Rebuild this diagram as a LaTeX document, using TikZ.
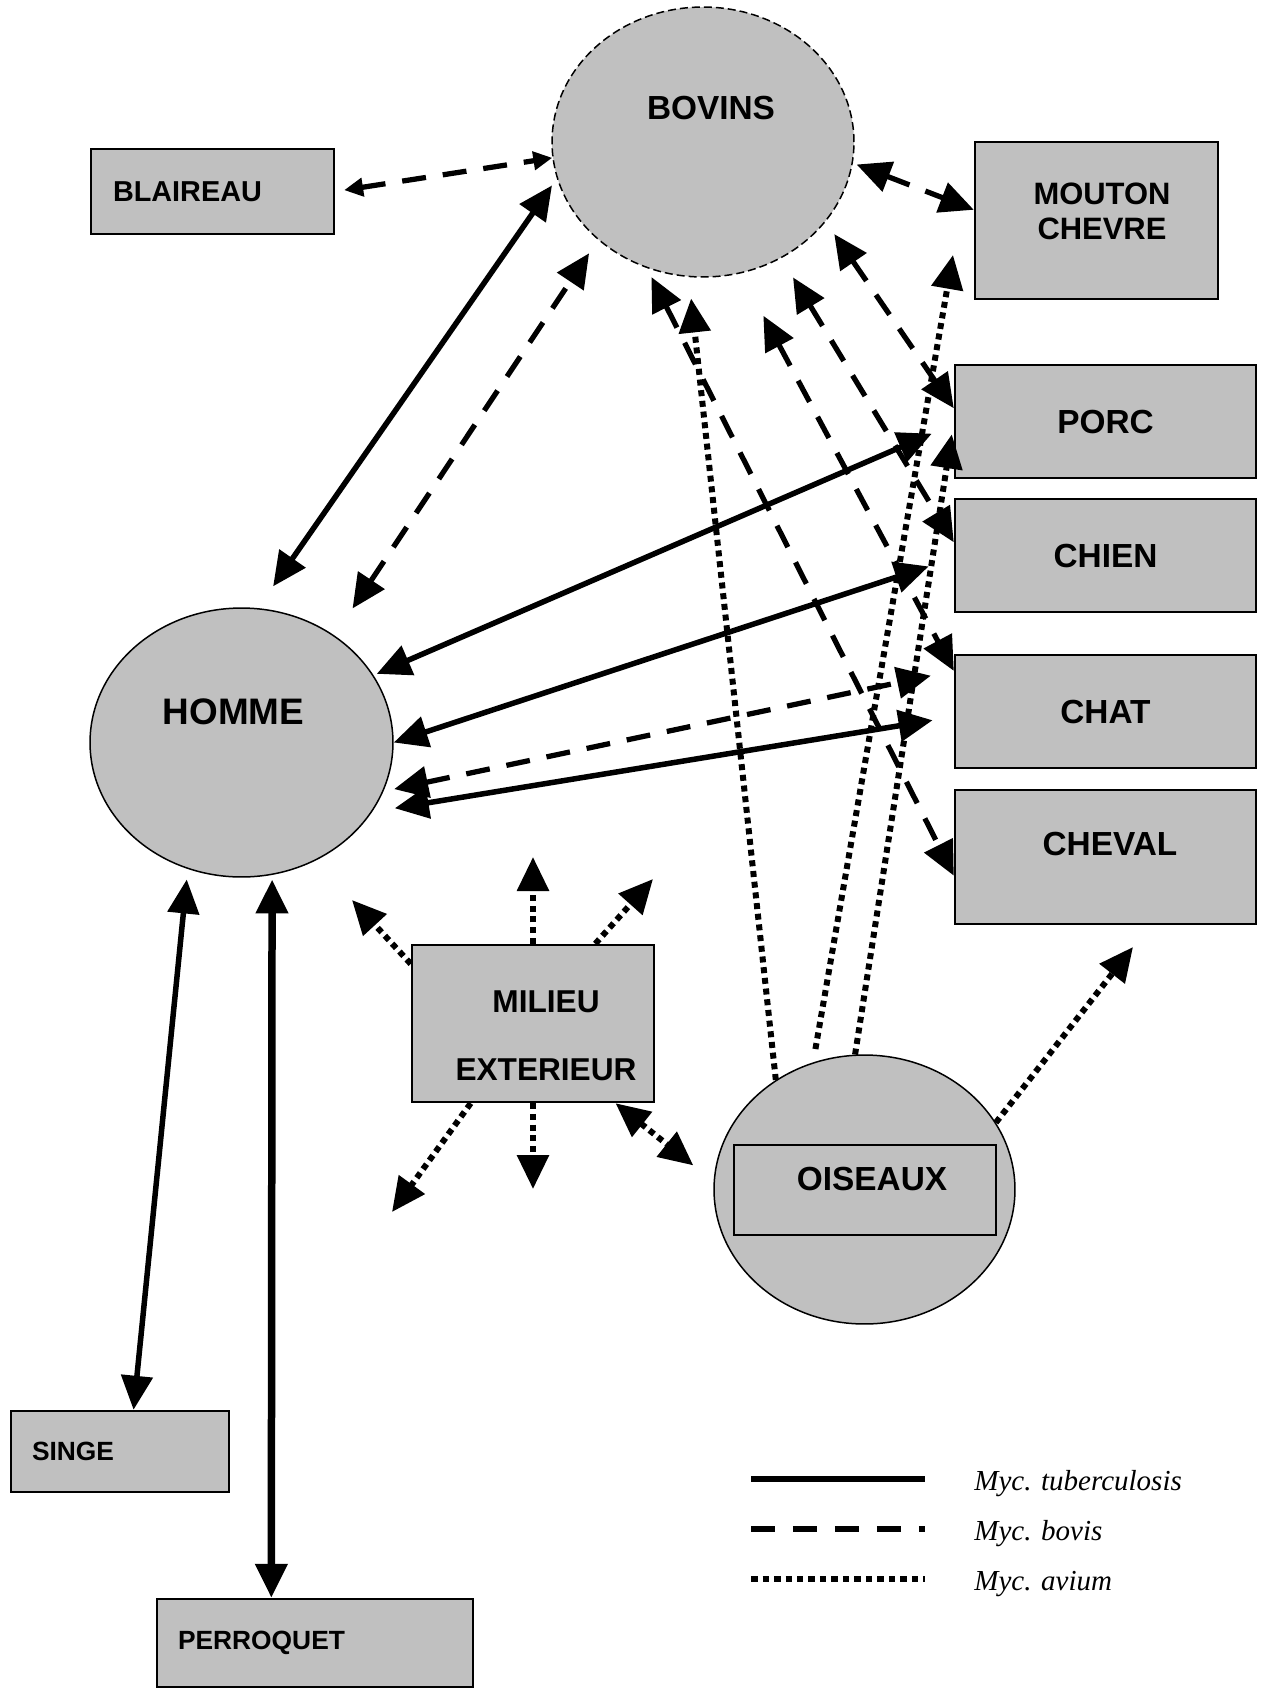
\documentclass[tikz,border=0pt]{standalone}
\usepackage{fontspec}
\setmainfont{Liberation Sans}
\newfontfamily\legfont{Liberation Serif}
\usetikzlibrary{arrows.meta,shapes.geometric}
\definecolor{boxgray}{RGB}{192,192,192}
\tikzset{
  >={Triangle[length=0.68cm,width=0.62cm]},
  sbox/.style={draw, line width=0.05cm, fill=boxgray, inner sep=0pt},
  sell/.style={ellipse, draw, line width=0.03cm, fill=boxgray, inner sep=0pt},
  ttx/.style={font=\bfseries\fontsize{19}{22}\selectfont},
  stx/.style={font=\bfseries\fontsize{15}{18}\selectfont, align=left, inner xsep=0.42cm},
  tub/.style={line width=0.11cm},
  bov/.style={line width=0.105cm, dash pattern=on 0.48cm off 0.34cm},
  avi/.style={line width=0.12cm, dash pattern=on 0.12cm off 0.095cm},
  leg/.style={font=\legfont\itshape\fontsize{16.5}{20}\selectfont, anchor=west, inner sep=0pt},
}

\begin{document}
\begin{tikzpicture}[x=0.02cm, y=-0.02cm]
\useasboundingbox (0,0) rectangle (1265,1688);
% hosts
\node[sell, dash pattern=on 0.16cm off 0.08cm, minimum width=6.04cm, minimum height=5.4cm,
  label={[ttx, xshift=0.16cm, yshift=0.68cm]center:BOVINS}] (bovins) at (703,142) {};
\node[sell, minimum width=6.06cm, minimum height=5.38cm,
  label={[ttx, font=\bfseries\fontsize{21}{24}\selectfont, xshift=-0.16cm, yshift=0.62cm]center:HOMME}] (homme) at (241.5,742.5) {};
\node[sell, minimum width=6.02cm, minimum height=5.38cm] (oiseaux) at (864.5,1189.5) {};
\node[sbox, line width=0.04cm, minimum width=5.24cm, minimum height=1.8cm,
  label={[ttx, xshift=0.14cm, yshift=0.22cm]center:OISEAUX}] (oisrect) at (865,1190) {};

\node[sbox, stx, font=\bfseries\fontsize{16.4}{19}\selectfont, inner xsep=0.44cm, text width=3.98cm,
  minimum width=4.86cm, minimum height=1.7cm] (blaireau) at (212.5,191.5) {BLAIREAU};
\node[sbox, minimum width=4.86cm, minimum height=3.14cm,
  label={[ttx, font=\bfseries\fontsize{17.6}{20}\selectfont, align=center, xshift=0.11cm, yshift=0.18cm]center:MOUTON\\CHEVRE}] (mouton) at (1096.5,220.5) {};
\node[sbox, ttx, minimum width=6.02cm, minimum height=2.26cm] (porc) at (1105.5,421.5) {PORC};
\node[sbox, ttx, minimum width=6.02cm, minimum height=2.26cm] (chien) at (1105.5,555.5) {CHIEN};
\node[sbox, ttx, minimum width=6.02cm, minimum height=2.26cm] (chat) at (1105.5,711.5) {CHAT};
\node[sbox, minimum width=6.02cm, minimum height=2.68cm,
  label={[ttx, xshift=0.09cm, yshift=0.26cm]center:CHEVAL}] (cheval) at (1105.5,857) {};
\node[sbox, minimum width=4.84cm, minimum height=3.14cm,
  label={[ttx, font=\bfseries\fontsize{18}{38.6}\selectfont, align=center, xshift=0.26cm, yshift=-0.25cm]center:MILIEU\\EXTERIEUR}] (milieu) at (533,1023.5) {};
\node[sbox, stx, text width=3.52cm, minimum width=4.36cm, minimum height=1.62cm] (singe) at (120,1451.5) {SINGE};
\node[sbox, stx, text width=5.48cm, minimum width=6.32cm, minimum height=1.76cm] (perroquet) at (315,1643) {PERROQUET};

% free arrow ends
\coordinate (mtip) at (953,255);
\coordinate (otip) at (1133,947);
\coordinate (m1) at (533,857);
\coordinate (m2) at (653,879);
\coordinate (m3) at (352,900);
\coordinate (m4) at (533,1189);
\coordinate (m5) at (392,1212);

% bovis
\draw[bov, {Triangle[length=0.38cm,width=0.36cm]}-{Triangle[length=0.38cm,width=0.36cm]}, shorten <=0.18cm] (blaireau.east) -- (bovins.186);
\draw[bov, <->, shorten <=0.65cm, shorten >=0.32cm] (homme.49) -- (bovins.223.2);
\draw[bov, <->, shorten <=0.08cm] (bovins.352.5) -- (mouton.175.1);
\draw[bov, <->, shorten <=0.3cm] (bovins.327.9) -- (porc.175.6);
\draw[bov, <->, shorten <=0.45cm] (bovins.304.1) -- (chien.175.4);
\draw[bov, <->, shorten <=0.96cm] (bovins.286.4) -- (chat.165.7);
\draw[bov, <->, shorten <=0.2cm] (bovins.246.6) -- (cheval.187.6);
\draw[bov, <->, shorten <=0.22cm, shorten >=0.47cm] (homme.341.4) -- (chat.165.7);
% tuberculosis
\draw[tub, <->, shorten <=0.53cm, shorten >=0.17cm] (homme.83.1) -- (bovins.194.6);
\draw[tub, <->, shorten <=0.07cm, shorten >=0.48cm] (homme.27.9) -- (porc.181);
\draw[tub, <->, shorten >=0.53cm] (homme.east) -- (chien.181.3);
\draw[tub, <->, shorten <=0.46cm, shorten >=0.43cm] (homme.332) -- (chat.182.7);
\draw[tub, <->, shorten <=0.21cm] (homme.247.4) -- (singe.72.8);
\draw[tub, <->, line width=0.15cm, shorten <=0.09cm] (homme.283) -- (perroquet.134.3);
% avium
\draw[avi, ->, shorten >=0.43cm] (oiseaux.129.9) -- (bovins.264.8);
\draw[avi, ->, shorten <=0.27cm] (oiseaux.112.3) -- (mtip);
\draw[avi, ->, shorten >=0.26cm] (oiseaux.94) -- (porc.180.3);
\draw[avi, ->] (oiseaux.27) -- (otip);
\draw[avi, ->] (milieu.north) -- (m1);
\draw[avi, ->] (milieu.52.8) -- (m2);
\draw[avi, ->] (milieu.154.2) -- (m3);
\draw[avi, ->] (milieu.south) -- (m4);
\draw[avi, ->] (milieu.232.6) -- (m5);
\draw[avi, <->, shorten >=0.52cm] (milieu.316.6) -- (oiseaux.177.7);

% legend
\node[leg] (ltub) at (974,1484) {Myc. tuberculosis};
\node[leg] (lbov) at (974,1534) {Myc. bovis};
\node[leg] (lavi) at (974,1584) {Myc. avium};
\draw[tub, line width=0.12cm] (751,1479) -- (925,1479);
\draw[bov, line width=0.12cm, dash pattern=on 0.48cm off 0.36cm] (751,1529) -- (925,1529);
\draw[avi, line width=0.12cm, dash pattern=on 0.13cm off 0.1cm] (751,1579) -- (925,1579);
\end{tikzpicture}
\end{document}
